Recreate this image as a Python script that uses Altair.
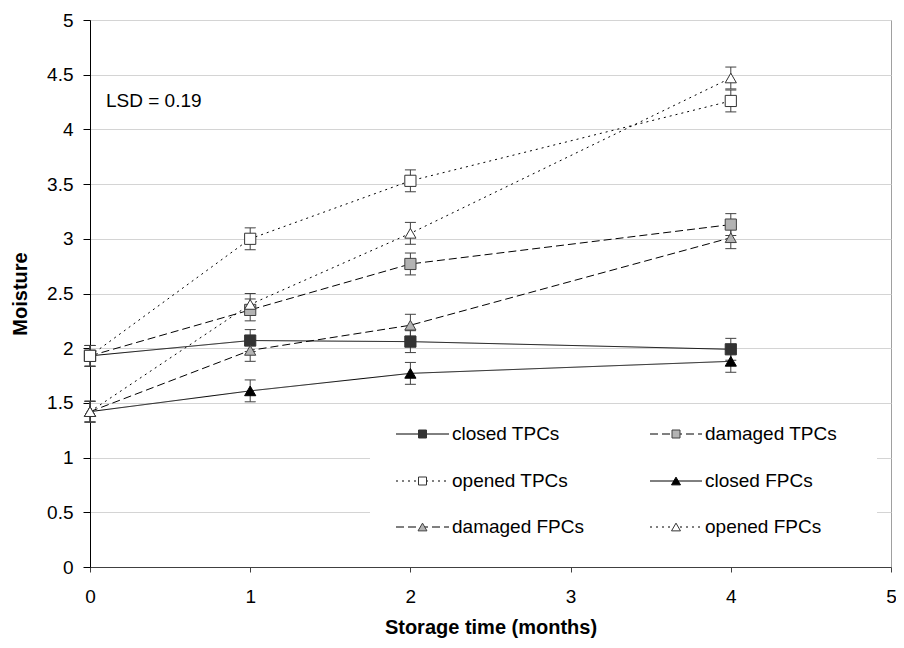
import altair as alt
import pandas as pd

# ---------------- data ----------------
months = [0, 1, 2, 4]
series_names = ["closed TPCs", "damaged TPCs", "opened TPCs",
                "closed FPCs", "damaged FPCs", "opened FPCs"]
closed_tpc = [1.93, 2.07, 2.06, 1.99]
damaged_tpc = [1.93, 2.35, 2.77, 3.13]
opened_tpc = [1.93, 3.00, 3.53, 4.26]
closed_fpc = [1.42, 1.61, 1.77, 1.88]
damaged_fpc = [1.42, 1.98, 2.21, 3.01]
opened_fpc = [1.42, 2.40, 3.05, 4.47]
err_closed_tpc = [0.095, 0.10, 0.10, 0.10]
err_damaged_tpc = [0.095, 0.10, 0.10, 0.10]
err_opened_tpc = [0.095, 0.10, 0.10, 0.10]
err_closed_fpc = [0.095, 0.10, 0.10, 0.10]
err_damaged_fpc = [0.095, 0.10, 0.10, 0.10]
err_opened_fpc = [0.095, 0.10, 0.10, 0.10]
x_ticks = [0, 1, 2, 3, 4, 5]
y_ticks = [0, 0.5, 1, 1.5, 2, 2.5, 3, 3.5, 4, 4.5, 5]
lsd_label = "LSD = 0.19"

values = [closed_tpc, damaged_tpc, opened_tpc, closed_fpc, damaged_fpc, opened_fpc]
errors = [err_closed_tpc, err_damaged_tpc, err_opened_tpc,
          err_closed_fpc, err_damaged_fpc, err_opened_fpc]

# ---------------- styles ----------------
SOLID, DASHED, DOTTED = [1, 0], [8, 4], [2, 4]
dashes = [SOLID, DASHED, DOTTED, SOLID, DASHED, DOTTED]
shapes = ["square", "square", "square", "triangle-up", "triangle-up", "triangle-up"]
fills = ["#333333", "#b3b3b3", "#ffffff", "#000000", "#b3b3b3", "#ffffff"]
strokes = ["#333333", "#404040", "#333333", "#000000", "#404040", "#333333"]
FONT = "Liberation Sans"
FS = 19
W, H = 801, 547

rows = []
for name, vals, errs in zip(series_names, values, errors):
    for m, v, e in zip(months, vals, errs):
        rows.append({"series": name, "month": m, "value": v,
                     "lo": v - e, "hi": v + e})
df = pd.DataFrame(rows)

xscale = alt.Scale(domain=[0, 5], nice=False, zero=False)
yscale = alt.Scale(domain=[0, 5], nice=False, zero=False)

x_axis = alt.Axis(values=x_ticks, format="~g", grid=False, domainColor="#404040",
                  tickColor="#404040", tickSize=5, labelFontSize=FS,
                  labelColor="#000000", labelPadding=24, labelBaseline="middle",
                  labelFlush=False, title="Storage time (months)",
                  titleFontSize=20, titleFontWeight="bold", titleColor="#000000",
                  titleY=60, titleBaseline="middle")
y_axis = alt.Axis(values=y_ticks, format="~g", grid=True, gridColor="#d4d4d4",
                  domainColor="#000000", tickColor="#000000", tickSize=7,
                  labelFontSize=FS, labelColor="#000000", labelPadding=10,
                  labelFlush=False, title="Moisture", titleFontSize=20,
                  titleFontWeight="bold", titleColor="#000000",
                  titleX=-70, titleY=H / 2, titleAngle=270,
                  titleBaseline="middle", titleAlign="center")

base = alt.Chart(df)
X = alt.X("month:Q", scale=xscale, axis=x_axis)
Y = alt.Y("value:Q", scale=yscale, axis=y_axis)

lines = base.mark_line(color="#000000", strokeWidth=1).encode(
    x=X, y=Y,
    strokeDash=alt.StrokeDash("series:N", scale=alt.Scale(domain=series_names, range=dashes), legend=None),
    order="month:Q",
)
bars = base.mark_rule(color="#404040", strokeWidth=1).encode(
    x="month:Q", y="lo:Q", y2="hi:Q")
cap_lo = base.mark_tick(orient="horizontal", color="#404040", size=11, thickness=1, opacity=1).encode(
    x="month:Q", y="lo:Q")
cap_hi = base.mark_tick(orient="horizontal", color="#404040", size=11, thickness=1, opacity=1).encode(
    x="month:Q", y="hi:Q")
points = base.mark_point(strokeWidth=1, opacity=1, fillOpacity=1, size=125).encode(
    x="month:Q", y="value:Q",
    shape=alt.Shape("series:N", scale=alt.Scale(domain=series_names, range=shapes), legend=None),
    fill=alt.Fill("series:N", scale=alt.Scale(domain=series_names, range=fills), legend=None),
    stroke=alt.Stroke("series:N", scale=alt.Scale(domain=series_names, range=strokes), legend=None),
)

one = pd.DataFrame({"k": [0]})
lsd = alt.Chart(one).mark_text(align="left", baseline="middle", fontSize=FS,
                               color="#000000", font=FONT).encode(
    x=alt.value(16), y=alt.value(81), text=alt.value(lsd_label))

# ---------------- legend (drawn inside the plot) ----------------
legend_layers = [alt.Chart(one).mark_rect(fill="#ffffff").encode(
    x=alt.value(280), x2=alt.value(787), y=alt.value(391), y2=alt.value(535))]
col_line = [(306, 359), (560, 612)]
col_text = [362, 615]
row_y = [414, 461, 507]
for i, name in enumerate(series_names):
    c, r = i % 2, i // 2
    x0, x1 = col_line[c]
    yc = row_y[r]
    legend_layers.append(alt.Chart(one).mark_rule(color="#000000", strokeWidth=1,
                                                  strokeDash=dashes[i]).encode(
        x=alt.value(x0), x2=alt.value(x1), y=alt.value(yc)))
    legend_layers.append(alt.Chart(one).mark_point(shape=shapes[i], fill=fills[i],
                                                   stroke=strokes[i], strokeWidth=1,
                                                   opacity=1, fillOpacity=1,
                                                   size=64 if shapes[i] == "square" else 80).encode(
        x=alt.value((x0 + x1) / 2), y=alt.value(yc)))
    legend_layers.append(alt.Chart(one).mark_text(align="left", baseline="middle",
                                                  fontSize=FS, color="#000000",
                                                  font=FONT).encode(
        x=alt.value(col_text[c]), y=alt.value(yc), text=alt.value(name)))

chart = alt.layer(lines, bars, cap_lo, cap_hi, points, lsd, *legend_layers).properties(
    width=W, height=H,
    padding={"left": 82, "top": 12, "right": 5, "bottom": 73},
    autosize=alt.AutoSizeParams(type="none"),
).configure(font=FONT).configure_view(stroke="#a0a0a0", strokeWidth=1)

chart.save("out.html", embed_options={"renderer": "svg", "actions": False})
